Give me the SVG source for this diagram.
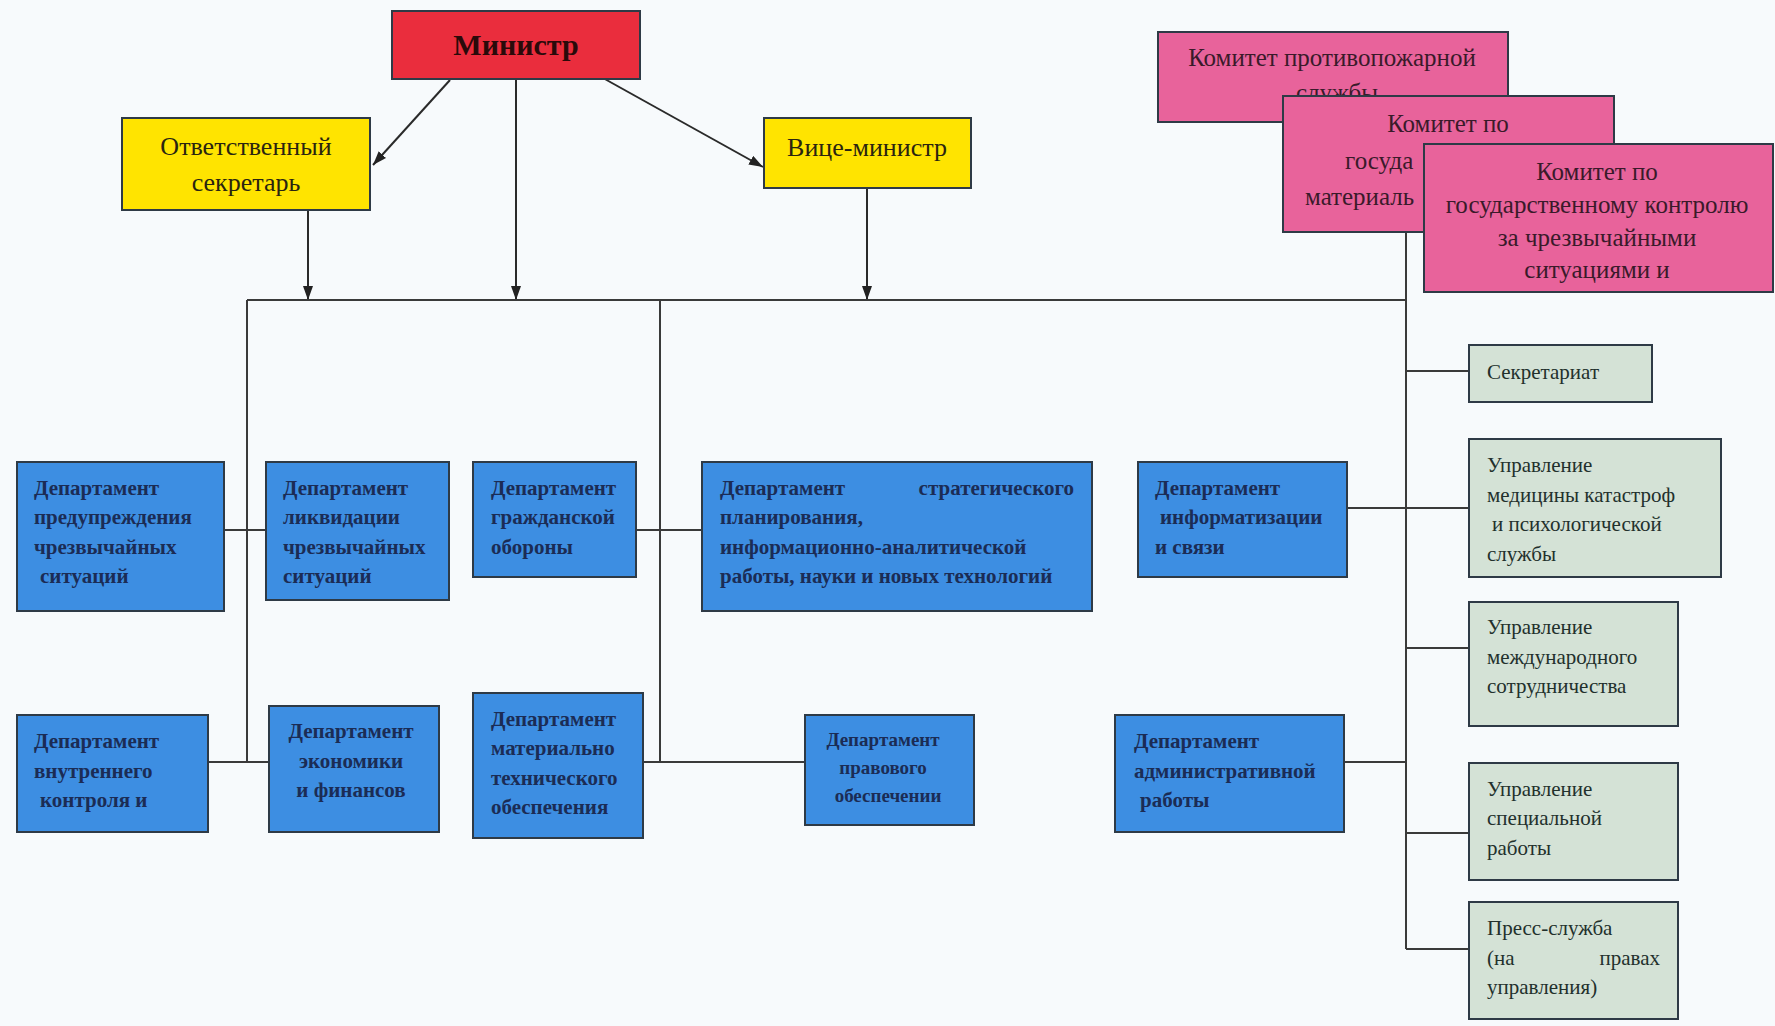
<svg xmlns="http://www.w3.org/2000/svg" width="1775" height="1026" viewBox="0 0 1775 1026">
<defs>
<marker id="arr" viewBox="0 0 14 10" refX="14" refY="5" markerWidth="14" markerHeight="10" markerUnits="userSpaceOnUse" orient="auto">
<path d="M0,0 L14,5 L0,10 z" fill="#222"/>
</marker>
<style>
.bg{fill:#f7fafc}
.box{stroke:#2e3a46;stroke-width:2}
.red{fill:#ea2d3d}
.yel{fill:#ffe400}
.pink{fill:#e8639b}
.blue{fill:#3d8ee2}
.green{fill:#d4e2d6}
.ln{stroke:#3a3a3a;stroke-width:2;fill:none}
.ar{stroke:#2a2a2a;stroke-width:2;fill:none;marker-end:url(#arr)}
text{font-family:"Liberation Serif","Times New Roman",serif}
.tb{font-size:21px;font-weight:bold;fill:#1b2c55}
.tg{font-size:21px;fill:#22302c}
.tp{font-size:25px;fill:#3a1a2a}
.ty{font-size:26px;fill:#2a2410}
.tr{font-size:30px;font-weight:bold;fill:#2a0a0a}
</style>
</defs>
<rect class="bg" x="0" y="0" width="1775" height="1026"/>

<g id="connectors">
<line class="ar" x1="450" y1="80" x2="373" y2="165"/>
<line class="ar" x1="603" y1="78" x2="763" y2="167"/>
<line class="ar" x1="516" y1="79" x2="516" y2="300"/>
<line class="ar" x1="308" y1="210" x2="308" y2="300"/>
<line class="ar" x1="867" y1="188" x2="867" y2="300"/>
<line class="ln" x1="247" y1="300" x2="1406" y2="300"/>
<line class="ln" x1="1406" y1="232" x2="1406" y2="949"/>
<line class="ln" x1="247" y1="300" x2="247" y2="762"/>
<line class="ln" x1="660" y1="300" x2="660" y2="762"/>
<line class="ln" x1="224" y1="530" x2="266" y2="530"/>
<line class="ln" x1="636" y1="530" x2="702" y2="530"/>
<line class="ln" x1="208" y1="762" x2="269" y2="762"/>
<line class="ln" x1="643" y1="762" x2="805" y2="762"/>
<line class="ln" x1="1347" y1="508" x2="1469" y2="508"/>
<line class="ln" x1="1406" y1="371" x2="1469" y2="371"/>
<line class="ln" x1="1406" y1="648" x2="1469" y2="648"/>
<line class="ln" x1="1344" y1="762" x2="1406" y2="762"/>
<line class="ln" x1="1406" y1="833" x2="1469" y2="833"/>
<line class="ln" x1="1406" y1="949" x2="1469" y2="949"/>
</g>

<g id="minister">
<rect class="box red" x="392" y="11" width="248" height="68"/>
<text class="tr" x="516" y="55" text-anchor="middle">Министр</text>
</g>
<g id="secretary">
<rect class="box yel" x="122" y="118" width="248" height="92"/>
<text class="ty" text-anchor="middle"><tspan x="246" y="155">Ответственный</tspan><tspan x="246" y="191">секретарь</tspan></text>
</g>
<g id="vice">
<rect class="box yel" x="764" y="118" width="207" height="70"/>
<text class="ty" x="867" y="156" text-anchor="middle">Вице-министр</text>
</g>

<g id="committee1">
<rect class="box pink" x="1158" y="32" width="350" height="90"/>
<text class="tp" text-anchor="middle"><tspan x="1332" y="66">Комитет противопожарной</tspan><tspan x="1337" y="101">службы</tspan></text>
</g>
<g id="committee2">
<rect class="box pink" x="1283" y="96" width="331" height="136"/>
<text class="tp" x="1448" y="132" text-anchor="middle">Комитет по</text>
<text class="tp"><tspan x="1345" y="169">госуда</tspan><tspan x="1305" y="205">материаль</tspan></text>
</g>
<g id="committee3">
<rect class="box pink" x="1424" y="144" width="349" height="148"/>
<text class="tp" text-anchor="middle"><tspan x="1597" y="180">Комитет по</tspan><tspan x="1597" y="213">государственному контролю</tspan><tspan x="1597" y="246">за чрезвычайными</tspan><tspan x="1597" y="278">ситуациями и</tspan></text>
</g>

<g id="dep-prevent">
<rect class="box blue" x="17" y="462" width="207" height="149"/>
<text class="tb"><tspan x="34" y="495">Департамент</tspan><tspan x="34" y="524">предупреждения</tspan><tspan x="34" y="554">чрезвычайных</tspan><tspan x="40" y="583">ситуаций</tspan></text>
</g>
<g id="dep-liquid">
<rect class="box blue" x="266" y="462" width="183" height="138"/>
<text class="tb"><tspan x="283" y="495">Департамент</tspan><tspan x="283" y="524">ликвидации</tspan><tspan x="283" y="554">чрезвычайных</tspan><tspan x="283" y="583">ситуаций</tspan></text>
</g>
<g id="dep-civil">
<rect class="box blue" x="473" y="462" width="163" height="115"/>
<text class="tb"><tspan x="491" y="495">Департамент</tspan><tspan x="491" y="524">гражданской</tspan><tspan x="491" y="554">обороны</tspan></text>
</g>
<g id="dep-strat">
<rect class="box blue" x="702" y="462" width="390" height="149"/>
<text class="tb"><tspan x="720" y="495">Департамент</tspan><tspan x="1074" y="495" text-anchor="end">стратегического</tspan><tspan x="720" y="524">планирования,</tspan><tspan x="720" y="554">информационно-аналитической</tspan><tspan x="720" y="583">работы, науки и новых технологий</tspan></text>
</g>
<g id="dep-inform">
<rect class="box blue" x="1138" y="462" width="209" height="115"/>
<text class="tb"><tspan x="1155" y="495">Департамент</tspan><tspan x="1160" y="524">информатизации</tspan><tspan x="1155" y="554">и связи</tspan></text>
</g>

<g id="dep-internal">
<rect class="box blue" x="17" y="715" width="191" height="117"/>
<text class="tb"><tspan x="34" y="748">Департамент</tspan><tspan x="34" y="778">внутреннего</tspan><tspan x="40" y="807">контроля и</tspan></text>
</g>
<g id="dep-econ">
<rect class="box blue" x="269" y="706" width="170" height="126"/>
<text class="tb" text-anchor="middle"><tspan x="351" y="738">Департамент</tspan><tspan x="351" y="768">экономики</tspan><tspan x="351" y="797">и финансов</tspan></text>
</g>
<g id="dep-mat">
<rect class="box blue" x="473" y="693" width="170" height="145"/>
<text class="tb"><tspan x="491" y="726">Департамент</tspan><tspan x="491" y="755">материально</tspan><tspan x="491" y="785">технического</tspan><tspan x="491" y="814">обеспечения</tspan></text>
</g>
<g id="dep-legal">
<rect class="box blue" x="805" y="715" width="169" height="110"/>
<text class="tb" style="font-size:19px" text-anchor="middle"><tspan x="883" y="746">Департамент</tspan><tspan x="883" y="774">правового</tspan><tspan x="888" y="802">обеспечении</tspan></text>
</g>
<g id="dep-admin">
<rect class="box blue" x="1115" y="715" width="229" height="117"/>
<text class="tb"><tspan x="1134" y="748">Департамент</tspan><tspan x="1134" y="778">административной</tspan><tspan x="1140" y="807">работы</tspan></text>
</g>

<g id="secretariat">
<rect class="box green" x="1469" y="345" width="183" height="57"/>
<text class="tg" x="1487" y="379">Секретариат</text>
</g>
<g id="upr-med">
<rect class="box green" x="1469" y="439" width="252" height="138"/>
<text class="tg"><tspan x="1487" y="472">Управление</tspan><tspan x="1487" y="502">медицины катастроф</tspan><tspan x="1492" y="531">и психологической</tspan><tspan x="1487" y="561">службы</tspan></text>
</g>
<g id="upr-int">
<rect class="box green" x="1469" y="602" width="209" height="124"/>
<text class="tg"><tspan x="1487" y="634">Управление</tspan><tspan x="1487" y="664">международного</tspan><tspan x="1487" y="693">сотрудничества</tspan></text>
</g>
<g id="upr-spec">
<rect class="box green" x="1469" y="763" width="209" height="117"/>
<text class="tg"><tspan x="1487" y="796">Управление</tspan><tspan x="1487" y="825">специальной</tspan><tspan x="1487" y="855">работы</tspan></text>
</g>
<g id="press">
<rect class="box green" x="1469" y="902" width="209" height="117"/>
<text class="tg"><tspan x="1487" y="935">Пресс-служба</tspan><tspan x="1487" y="965">(на</tspan><tspan x="1660" y="965" text-anchor="end">правах</tspan><tspan x="1487" y="994">управления)</tspan></text>
</g>
</svg>
